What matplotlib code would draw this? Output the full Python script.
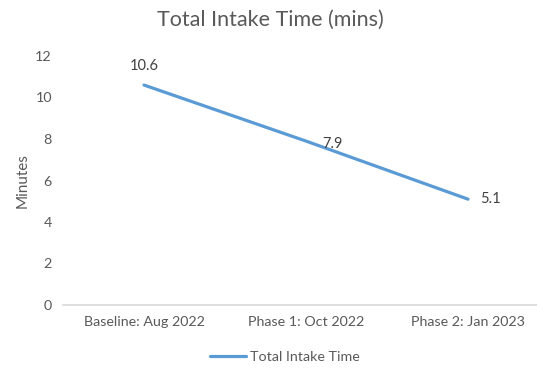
import matplotlib
matplotlib.use("Agg")
import matplotlib.pyplot as plt

# data
phases = ["Baseline: Aug 2022", "Phase 1: Oct 2022", "Phase 2: Jan 2023"]
intake_mins = [10.6, 7.9, 5.1]
y_ticks = [0, 2, 4, 6, 8, 10, 12]

plt.rcParams['font.family'] = ['Lato', 'DejaVu Sans']

fig = plt.figure(figsize=(5.37, 3.70), dpi=100)
W, H = 537, 370
# axes in pixel coordinates: x from 63 to 549, y from 305 (0) up to 56 (12)
ax = fig.add_axes([63 / W, (H - 305) / H, 486 / W, (305 - 56) / H])

x = list(range(len(phases)))
ax.plot(x, intake_mins, color='#5B9BD5', linewidth=2.3, solid_capstyle='round',
        label='Total Intake Time')

# data labels, placed like Excel did
ax.annotate(f"{intake_mins[0]}", (x[0], intake_mins[0]), xytext=(0, 9),
            textcoords='offset points', ha='center', va='bottom', fontsize=10.5, color='#404040')
ax.annotate(f"{intake_mins[1]}", (x[1], intake_mins[1]), xytext=(12, -2),
            textcoords='offset points', ha='left', va='center', fontsize=10.5, color='#404040')
ax.annotate(f"{intake_mins[2]}", (x[2], intake_mins[2]), xytext=(9, 0),
            textcoords='offset points', ha='left', va='center', fontsize=10.5, color='#404040')

ax.set_xlim(-0.5, 2.5)
ax.set_ylim(0, 12)
ax.set_yticks(y_ticks)
ax.set_xticks(x)
ax.set_xticklabels(phases)
ax.tick_params(axis='both', length=0, labelsize=10.3, labelcolor='#595959')
ax.tick_params(axis='y', pad=8)
ax.tick_params(axis='x', pad=8)

for side in ['top', 'right', 'left']:
    ax.spines[side].set_visible(False)
ax.spines['bottom'].set_color('#D9D9D9')
ax.spines['bottom'].set_linewidth(1.2)

ax.set_ylabel("Minutes", fontsize=11, color='#595959', labelpad=4)

fig.text(270 / W, 1 - 20 / H, "Total Intake Time (mins)", ha='center', va='center',
         fontsize=15.5, color='#595959')

fig.legend(loc='center', bbox_to_anchor=(285 / W, 1 - 357 / H), frameon=False,
           fontsize=10.3, labelcolor='#595959', handlelength=2.5, handletextpad=0.3)

fig.savefig("out.png", dpi=100)
